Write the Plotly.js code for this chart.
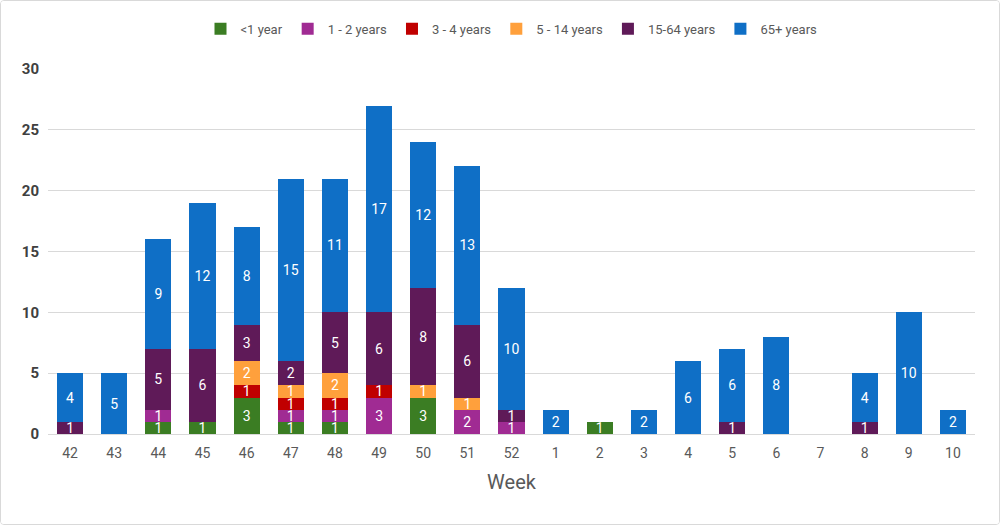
<!DOCTYPE html>
<html>
<head>
<meta charset="utf-8">
<script src="https://cdn.plot.ly/plotly-3.0.1.min.js"></script>
<style>
html,body{margin:0;padding:0;background:#fff;}
#wrap{width:1000px;height:525px;box-sizing:border-box;border:1px solid #d9d9d9;border-radius:4px;overflow:hidden;}
#chart{width:998px;height:523px;}
</style>
</head>
<body>
<div id="wrap"><div id="chart"></div></div>
<script>
var weeks = ['42','43','44','45','46','47','48','49','50','51','52','1','2','3','4','5','6','7','8','9','10'];
var lt1   = [0,0,1,1,3,1,1,0,3,0,0,0,1,0,0,0,0,0,0,0,0];
var y1to2 = [0,0,1,0,0,1,1,3,0,2,1,0,0,0,0,0,0,0,0,0,0];
var y3to4 = [0,0,0,0,1,1,1,1,0,0,0,0,0,0,0,0,0,0,0,0,0];
var y5to14= [0,0,0,0,2,1,2,0,1,1,0,0,0,0,0,0,0,0,0,0,0];
var y15to64=[1,0,5,6,3,2,5,6,8,6,1,0,0,0,0,1,0,0,1,0,0];
var y65p  = [4,5,9,12,8,15,11,17,12,13,10,2,0,2,6,6,8,0,4,10,2];

var seriesNames = ['<1 year','1 - 2 years','3 - 4 years','5 - 14 years','15-64 years','65+ years'];
var seriesData = [lt1, y1to2, y3to4, y5to14, y15to64, y65p];
var seriesColors = ['#3b7d23','#a02b93','#c00000','#ffa03c','#5f1a58','#0f6fc6'];

var traces = seriesData.map(function(vals, i){
  return {
    type: 'bar',
    name: seriesNames[i],
    x: weeks,
    y: vals,
    text: vals.map(function(v){ return v > 0 ? String(v) : ''; }),
    textposition: 'inside',
    insidetextanchor: 'middle',
    textangle: 0,
    constraintext: 'none',
    textfont: {color: '#ffffff', size: 14, family: 'Roboto, Arial, sans-serif'},
    marker: {color: seriesColors[i], line: {width: 0}},
    hoverinfo: 'x+y+name'
  };
});

var layout = {
  barmode: 'stack',
  bargap: 0.41,
  width: 998,
  height: 523,
  margin: {l: 47, r: 24, t: 68, b: 90, autoexpand: false},
  paper_bgcolor: '#ffffff',
  plot_bgcolor: '#ffffff',
  font: {family: 'Roboto, Arial, sans-serif', color: '#595959', size: 14},
  uniformtext: {minsize: 14, mode: 'show'},
  showlegend: true,
  legend: {
    orientation: 'h',
    x: 0.5, xanchor: 'center',
    y: 1.11, yanchor: 'middle',
    traceorder: 'normal',
    font: {size: 13, color: '#595959'},
    itemwidth: 30,
    itemsizing: 'constant'
  },
  xaxis: {
    type: 'category',
    categoryorder: 'array',
    categoryarray: weeks,
    showgrid: false,
    showline: true,
    linecolor: '#d9d9d9',
    linewidth: 1,
    ticks: '',
    ticklabelstandoff: 6,
    tickfont: {size: 14, color: '#595959'},
    title: {text: 'Week', font: {size: 20, color: '#595959'}, standoff: 15}
  },
  yaxis: {
    range: [0, 30],
    dtick: 5,
    showgrid: true,
    gridcolor: '#d9d9d9',
    gridwidth: 1,
    zeroline: false,
    showline: false,
    ticks: '',
    ticklabelstandoff: 8,
    tickfont: {size: 15, color: '#404040', weight: 'bold'}
  }
};

Plotly.newPlot('chart', traces, layout, {displayModeBar: false, staticPlot: true});
</script>
</body>
</html>
